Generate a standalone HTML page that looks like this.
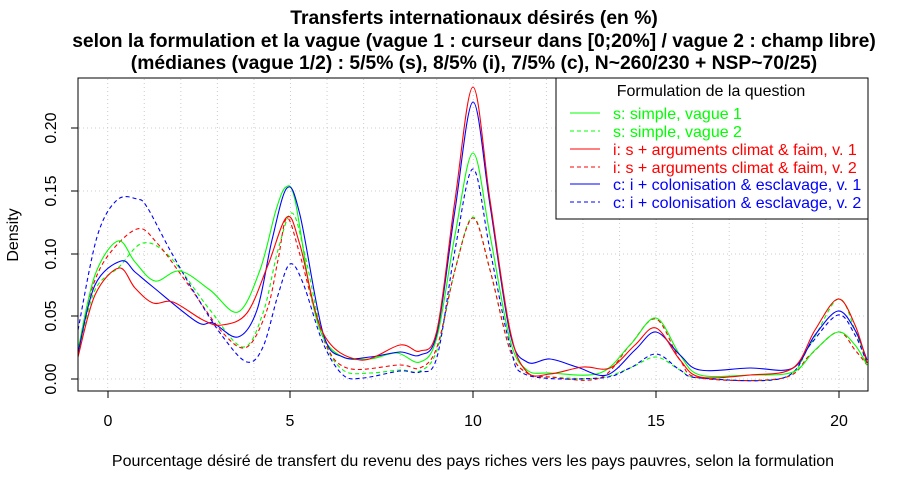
<!DOCTYPE html>
<html><head><meta charset="utf-8"><style>
body{margin:0;background:#fff}
svg{display:block;font-family:"Liberation Sans",sans-serif}
</style></head><body>
<svg id="s" width="908" height="489" viewBox="0 0 908 489">
<rect width="908" height="489" fill="#fff"/>
<g font-weight="bold" font-size="19.3" text-anchor="middle">
<text x="474" y="24">Transferts internationaux désirés (en %)</text>
<text x="474" y="47">selon la formulation et la vague (vague 1 : curseur dans [0;20%] / vague 2 : champ libre)</text>
<text x="474" y="69">(médianes (vague 1/2) : 5/5% (s), 8/5% (i), 7/5% (c), N~260/230 + NSP~70/25)</text>
</g>
<g id="grid" stroke="#ccc" stroke-dasharray="1,3" stroke-width="1"></g>
<g id="curves" fill="none" stroke-width="1.1"></g>
<rect x="78" y="78" width="790" height="313" fill="none" stroke="#000" stroke-width="1"/>
<g stroke="#000">
<line x1="78" y1="379" x2="78" y2="128"/>
<line x1="71" y1="379" x2="78" y2="379"/><line x1="71" y1="316" x2="78" y2="316"/><line x1="71" y1="254" x2="78" y2="254"/><line x1="71" y1="191" x2="78" y2="191"/><line x1="71" y1="128" x2="78" y2="128"/>
<line x1="108" y1="391" x2="108" y2="398"/><line x1="290" y1="391" x2="290" y2="398"/><line x1="473" y1="391" x2="473" y2="398"/><line x1="656" y1="391" x2="656" y2="398"/><line x1="839" y1="391" x2="839" y2="398"/>
</g>
<g font-size="16" text-anchor="middle">
<text transform="translate(56,379) rotate(-90)">0.00</text>
<text transform="translate(56,316) rotate(-90)">0.05</text>
<text transform="translate(56,254) rotate(-90)">0.10</text>
<text transform="translate(56,191) rotate(-90)">0.15</text>
<text transform="translate(56,128) rotate(-90)">0.20</text>
<text x="108" y="426">0</text><text x="290" y="426">5</text><text x="473" y="426">10</text><text x="656" y="426">15</text><text x="839" y="426">20</text>
<text x="473" y="466">Pourcentage désiré de transfert du revenu des pays riches vers les pays pauvres, selon la formulation</text>
<text transform="translate(18,235) rotate(-90)">Density</text>
</g>
<rect x="556" y="78" width="312" height="141" fill="#fff" stroke="#000"/>
<g font-size="16">
<text x="711" y="96" text-anchor="middle">Formulation de la question</text>
<g stroke-width="1.1">
<line x1="570" y1="113" x2="600" y2="113" stroke="#0f0"/>
<line x1="570" y1="131" x2="600" y2="131" stroke="#0f0" stroke-dasharray="4,3"/>
<line x1="570" y1="149" x2="600" y2="149" stroke="#f00"/>
<line x1="570" y1="167" x2="600" y2="167" stroke="#f00" stroke-dasharray="4,3"/>
<line x1="570" y1="184" x2="600" y2="184" stroke="#00f"/>
<line x1="570" y1="202" x2="600" y2="202" stroke="#00f" stroke-dasharray="4,3"/>
</g>
<text x="613" y="119" fill="#0f0">s: simple, vague 1</text>
<text x="613" y="137" fill="#0f0">s: simple, vague 2</text>
<text x="613" y="155" fill="#f00">i: s + arguments climat &amp; faim, v. 1</text>
<text x="613" y="173" fill="#f00">i: s + arguments climat &amp; faim, v. 2</text>
<text x="613" y="190" fill="#00f">c: i + colonisation &amp; esclavage, v. 1</text>
<text x="613" y="208" fill="#00f">c: i + colonisation &amp; esclavage, v. 2</text>
</g>
</svg>
<script>
var ns="http://www.w3.org/2000/svg";
var g=document.getElementById("grid");
for(var i=-0;i<=21;i++){var x=107.7+i*36.56;if(x<79||x>867)continue;var l=document.createElementNS(ns,"line");l.setAttribute("x1",x);l.setAttribute("x2",x);l.setAttribute("y1",79);l.setAttribute("y2",390);g.appendChild(l);}
[379,316,254,191,128].forEach(function(y){var l=document.createElementNS(ns,"line");l.setAttribute("x1",79);l.setAttribute("x2",867);l.setAttribute("y1",y);l.setAttribute("y2",y);g.appendChild(l);});
var S={
G1:["#0f0",0,[[78,350],[95,275],[118,241],[135,262],[155,281],[180,271],[210,290],[238,312],[260,270],[276,210],[286,187],[295,200],[310,290],[323,337],[343,357],[370,359],[397,353],[420,362],[437,337],[455,235],[473,153],[490,235],[510,340],[527,370],[550,373],[600,373],[630,345],[656,318],[680,355],[700,375],[750,375],[793,372],[815,350],[838,332],[855,345],[867,365]]],
R1:["#f00",0,[[78,357],[95,295],[119,268],[135,288],[153,303],[173,302],[203,320],[222,325],[247,313],[268,265],[287,217],[300,245],[323,333],[360,360],[400,345],[420,351],[437,330],[455,200],[473,87],[490,200],[510,330],[527,372],[550,374],[583,367],[610,368],[635,345],[656,328],[680,360],[700,377],[750,375],[793,368],[815,330],[838,299],[855,325],[867,363]]],
B1:["#00f",0,[[78,353],[95,285],[121,261],[135,272],[153,287],[197,322],[213,323],[238,337],[257,310],[272,240],[287,188],[300,215],[323,333],[343,357],[370,357],[400,352],[420,355],[437,333],[455,210],[473,102],[490,205],[510,333],[527,362],[550,359],[577,367],[607,375],[635,350],[656,332],[680,355],[700,370],[750,368],[793,368],[815,335],[838,311],[855,330],[867,360]]],
G2:["#0f0",1,[[78,353],[95,290],[119,267],[143,243],[170,257],[210,310],[243,347],[263,313],[278,250],[292,213],[305,255],[323,337],[343,370],[370,373],[400,370],[420,371],[437,350],[455,270],[473,217],[490,270],[510,350],[527,373],[550,377],[600,378],[630,368],[656,357],[680,370],[700,378],[783,378],[810,345],[838,299],[855,330],[867,365]]],
R2:["#f00",1,[[78,352],[90,295],[107,257],[137,229],[157,243],[187,283],[223,333],[247,347],[267,310],[278,260],[287,218],[300,255],[323,337],[347,368],[400,365],[420,368],[437,347],[455,270],[473,218],[490,270],[510,350],[527,373],[550,377],[600,378],[630,345],[656,319],[680,360],[700,378],[783,378],[810,355],[838,332],[855,350],[867,365]]],
B2:["#00f",1,[[78,330],[97,237],[117,200],[137,199],[147,207],[170,250],[197,297],[223,337],[247,362],[263,347],[278,295],[290,264],[303,283],[323,343],[343,375],[363,378],[400,371],[420,372],[437,357],[455,250],[473,169],[490,250],[510,345],[527,375],[600,378],[630,368],[656,354],[680,370],[700,378],[783,378],[810,345],[838,315],[855,335],[867,363]]]
};
var c=document.getElementById("curves");
["G2","R2","B2","G1","B1","R1"].forEach(function(k){var s=S[k],p=s[2],d="M"+p[0][0]+","+p[0][1];
for(var i=0;i<p.length-1;i++){var p0=p[Math.max(0,i-1)],p1=p[i],p2=p[i+1],p3=p[Math.min(p.length-1,i+2)];
d+=" C"+(p1[0]+(p2[0]-p0[0])/6)+","+(p1[1]+(p2[1]-p0[1])/6)+" "+(p2[0]-(p3[0]-p1[0])/6)+","+(p2[1]-(p3[1]-p1[1])/6)+" "+p2[0]+","+p2[1];}
var e=document.createElementNS(ns,"path");e.setAttribute("d",d);e.setAttribute("stroke",s[0]);if(s[1])e.setAttribute("stroke-dasharray","4,3");c.appendChild(e);});
</script>
</body></html>
